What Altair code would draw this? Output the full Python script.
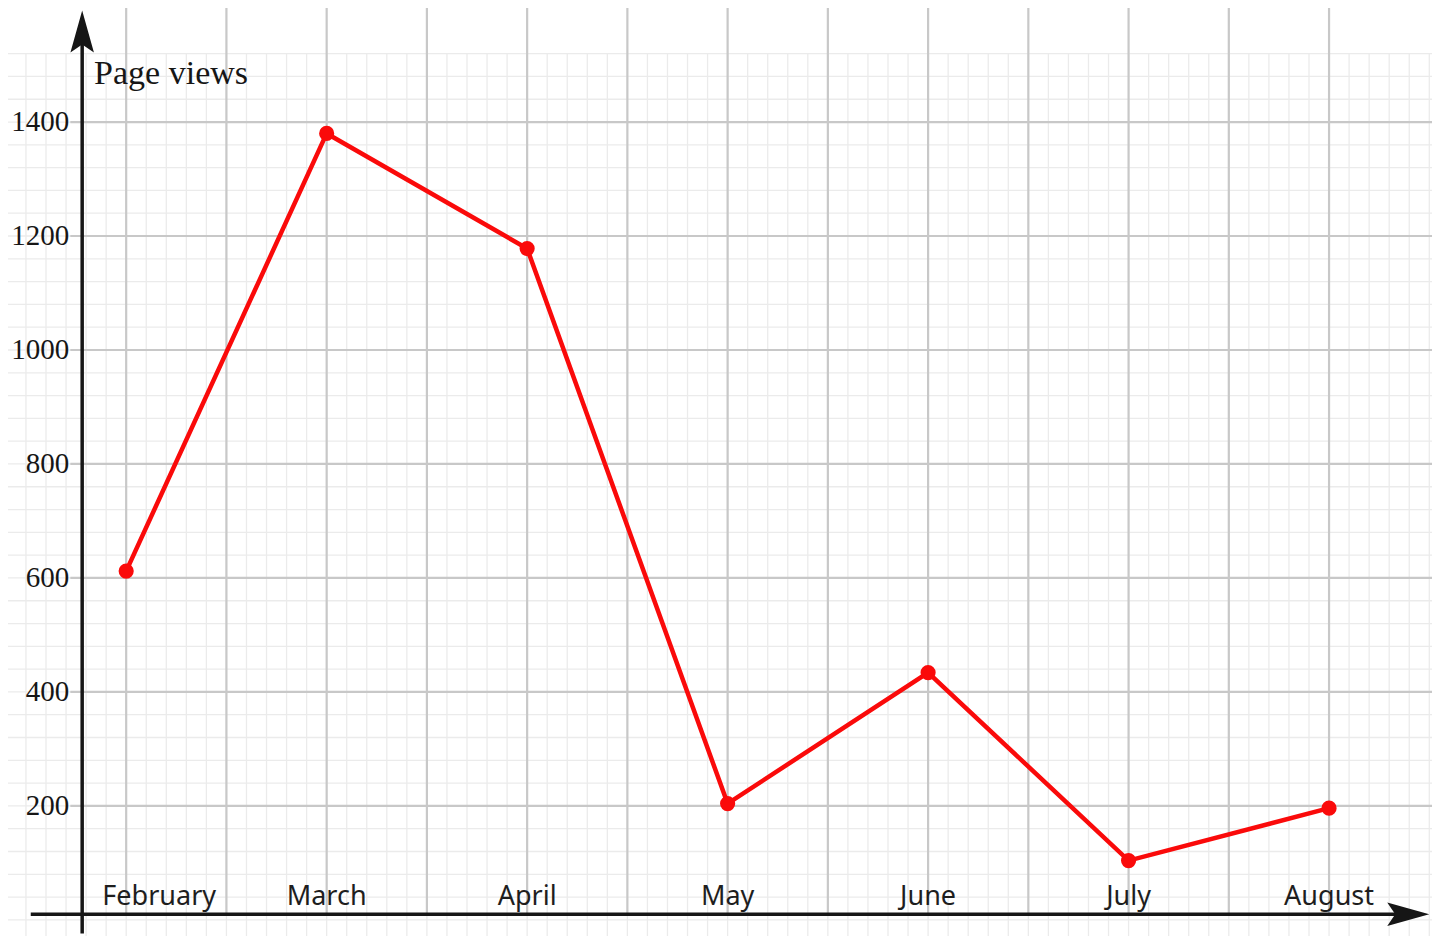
import altair as alt
import numpy as np
import pandas as pd

# ---- data ----
months = ["February", "March", "April", "May", "June", "July", "August"]
views = [612, 1380, 1178, 204, 434, 104, 196]
y_ticks = [200, 400, 600, 800, 1000, 1200, 1400]
y_title = "Page views"

idx = list(range(len(months)))
series = pd.DataFrame({"i": idx, "month": months, "views": views})
ticks = pd.DataFrame({"v": y_ticks, "label": [str(t) for t in y_ticks]})

# ---- scales (month index on x, page views on y) ----
X0, X1 = -0.5895, 6.5135
Y0, Y1 = -28.3, 1600.1
xs = alt.Scale(domain=[X0, X1], nice=False, zero=False)
ys = alt.Scale(domain=[Y0, Y1], nice=False, zero=False)

# grid structure (graph paper)
vminor = pd.DataFrame({"m": np.round(np.arange(-0.5, 6.51, 0.1), 2)})
vmajor = pd.DataFrame({"m": np.round(np.arange(0, 6.01, 0.5), 2)})
hminor = pd.DataFrame({"v": np.arange(0, 1521, 40)})
hmajor = pd.DataFrame({"v": np.arange(200, 1401, 200)})

MINOR = "#ebebeb"
MAJOR = "#c8c8c8"
RED = "#fa0a0a"
INK = "#161616"

def vrule(df, lo, hi, color, w):
    return alt.Chart(df).mark_rule(color=color, strokeWidth=w).encode(
        x=alt.X("m:Q", scale=xs, axis=None),
        y=alt.YDatum(lo, type="quantitative", scale=ys, axis=None),
        y2=alt.Y2Datum(hi),
    )

def hrule(df, lo, hi, color, w):
    return alt.Chart(df).mark_rule(color=color, strokeWidth=w).encode(
        y=alt.Y("v:Q", scale=ys, axis=None),
        x=alt.XDatum(lo, type="quantitative", scale=xs, axis=None),
        x2=alt.X2Datum(hi),
    )

g_vmin = vrule(vminor, Y0, 1520, MINOR, 1.3)
g_hmin = hrule(hminor, X0, X1, MINOR, 1.3)
g_vmaj = vrule(vmajor, 9.7, Y1, MAJOR, 2.2)
g_hmaj = hrule(hmajor, -0.2786, X1, MAJOR, 2.2)

one = pd.DataFrame({"k": [0]})

y_axis = alt.Chart(one).mark_rule(color=INK, strokeWidth=3.5).encode(
    x=alt.XDatum(-0.2195, type="quantitative", scale=xs, axis=None),
    y=alt.YDatum(-24.0, type="quantitative", scale=ys, axis=None),
    y2=alt.Y2Datum(1545.0),
)
x_axis = alt.Chart(one).mark_rule(color=INK, strokeWidth=3.5).encode(
    y=alt.YDatum(9.7, type="quantitative", scale=ys, axis=None),
    x=alt.XDatum(-0.476, type="quantitative", scale=xs, axis=None),
    x2=alt.X2Datum(6.35),
)

arrow_path = "M0,-1L0.56,1L0,0.62L-0.56,1Z"
y_arrow = alt.Chart(one).mark_point(
    shape=arrow_path, filled=True, size=1764, color=INK, opacity=1, strokeWidth=0
).encode(
    x=alt.XDatum(-0.2195, type="quantitative", scale=xs, axis=None),
    y=alt.YDatum(1558.7, type="quantitative", scale=ys, axis=None),
)
x_arrow = alt.Chart(one).mark_point(
    shape=arrow_path, filled=True, size=1764, color=INK, opacity=1, strokeWidth=0, angle=90
).encode(
    x=alt.XDatum(6.395, type="quantitative", scale=xs, axis=None),
    y=alt.YDatum(9.7, type="quantitative", scale=ys, axis=None),
)

line = alt.Chart(series).mark_line(color=RED, strokeWidth=4.5).encode(
    x=alt.X("i:Q", scale=xs, axis=None),
    y=alt.Y("views:Q", scale=ys, axis=None),
)
pts = alt.Chart(series).mark_circle(color=RED, size=230, opacity=1).encode(
    x=alt.X("i:Q", scale=xs, axis=None),
    y=alt.Y("views:Q", scale=ys, axis=None),
)

tick_text = alt.Chart(ticks).mark_text(
    align="right", baseline="middle", font="Liberation Serif", fontSize=29, color=INK
).encode(
    x=alt.XDatum(-0.2836, type="quantitative", scale=xs, axis=None),
    y=alt.Y("v:Q", scale=ys, axis=None),
    text="label:N",
)

month_text = alt.Chart(series).mark_text(
    align="center", baseline="alphabetic", font="Noto Sans", fontSize=27, color="#1e1e1e"
).transform_filter("datum.i > 0").encode(
    x=alt.X("i:Q", scale=xs, axis=None),
    y=alt.YDatum(26.9, type="quantitative", scale=ys, axis=None),
    text="month:N",
)
first_month = alt.Chart(series).mark_text(
    align="center", baseline="alphabetic", font="Noto Sans", fontSize=27, color="#1e1e1e", dx=33
).transform_filter("datum.i == 0").encode(
    x=alt.X("i:Q", scale=xs, axis=None),
    y=alt.YDatum(26.9, type="quantitative", scale=ys, axis=None),
    text="month:N",
)

title_text = alt.Chart(one).mark_text(
    align="left", baseline="alphabetic", font="Liberation Serif", fontSize=34, color=INK
).encode(
    x=alt.XDatum(-0.16, type="quantitative", scale=xs, axis=None),
    y=alt.YDatum(1467.0, type="quantitative", scale=ys, axis=None),
    text=alt.value(y_title),
)

chart = alt.layer(
    g_vmin, g_hmin, g_vmaj, g_hmaj,
    y_axis, x_axis,
    line, pts,
    tick_text, month_text, first_month, title_text,
    y_arrow, x_arrow,
).properties(
    width=1424, height=928, padding=0,
    autosize=alt.AutoSizeParams(type="none"),
    background="white",
).configure_view(stroke=None)

chart.save("out.html", embed_options={"renderer": "svg", "actions": False})
